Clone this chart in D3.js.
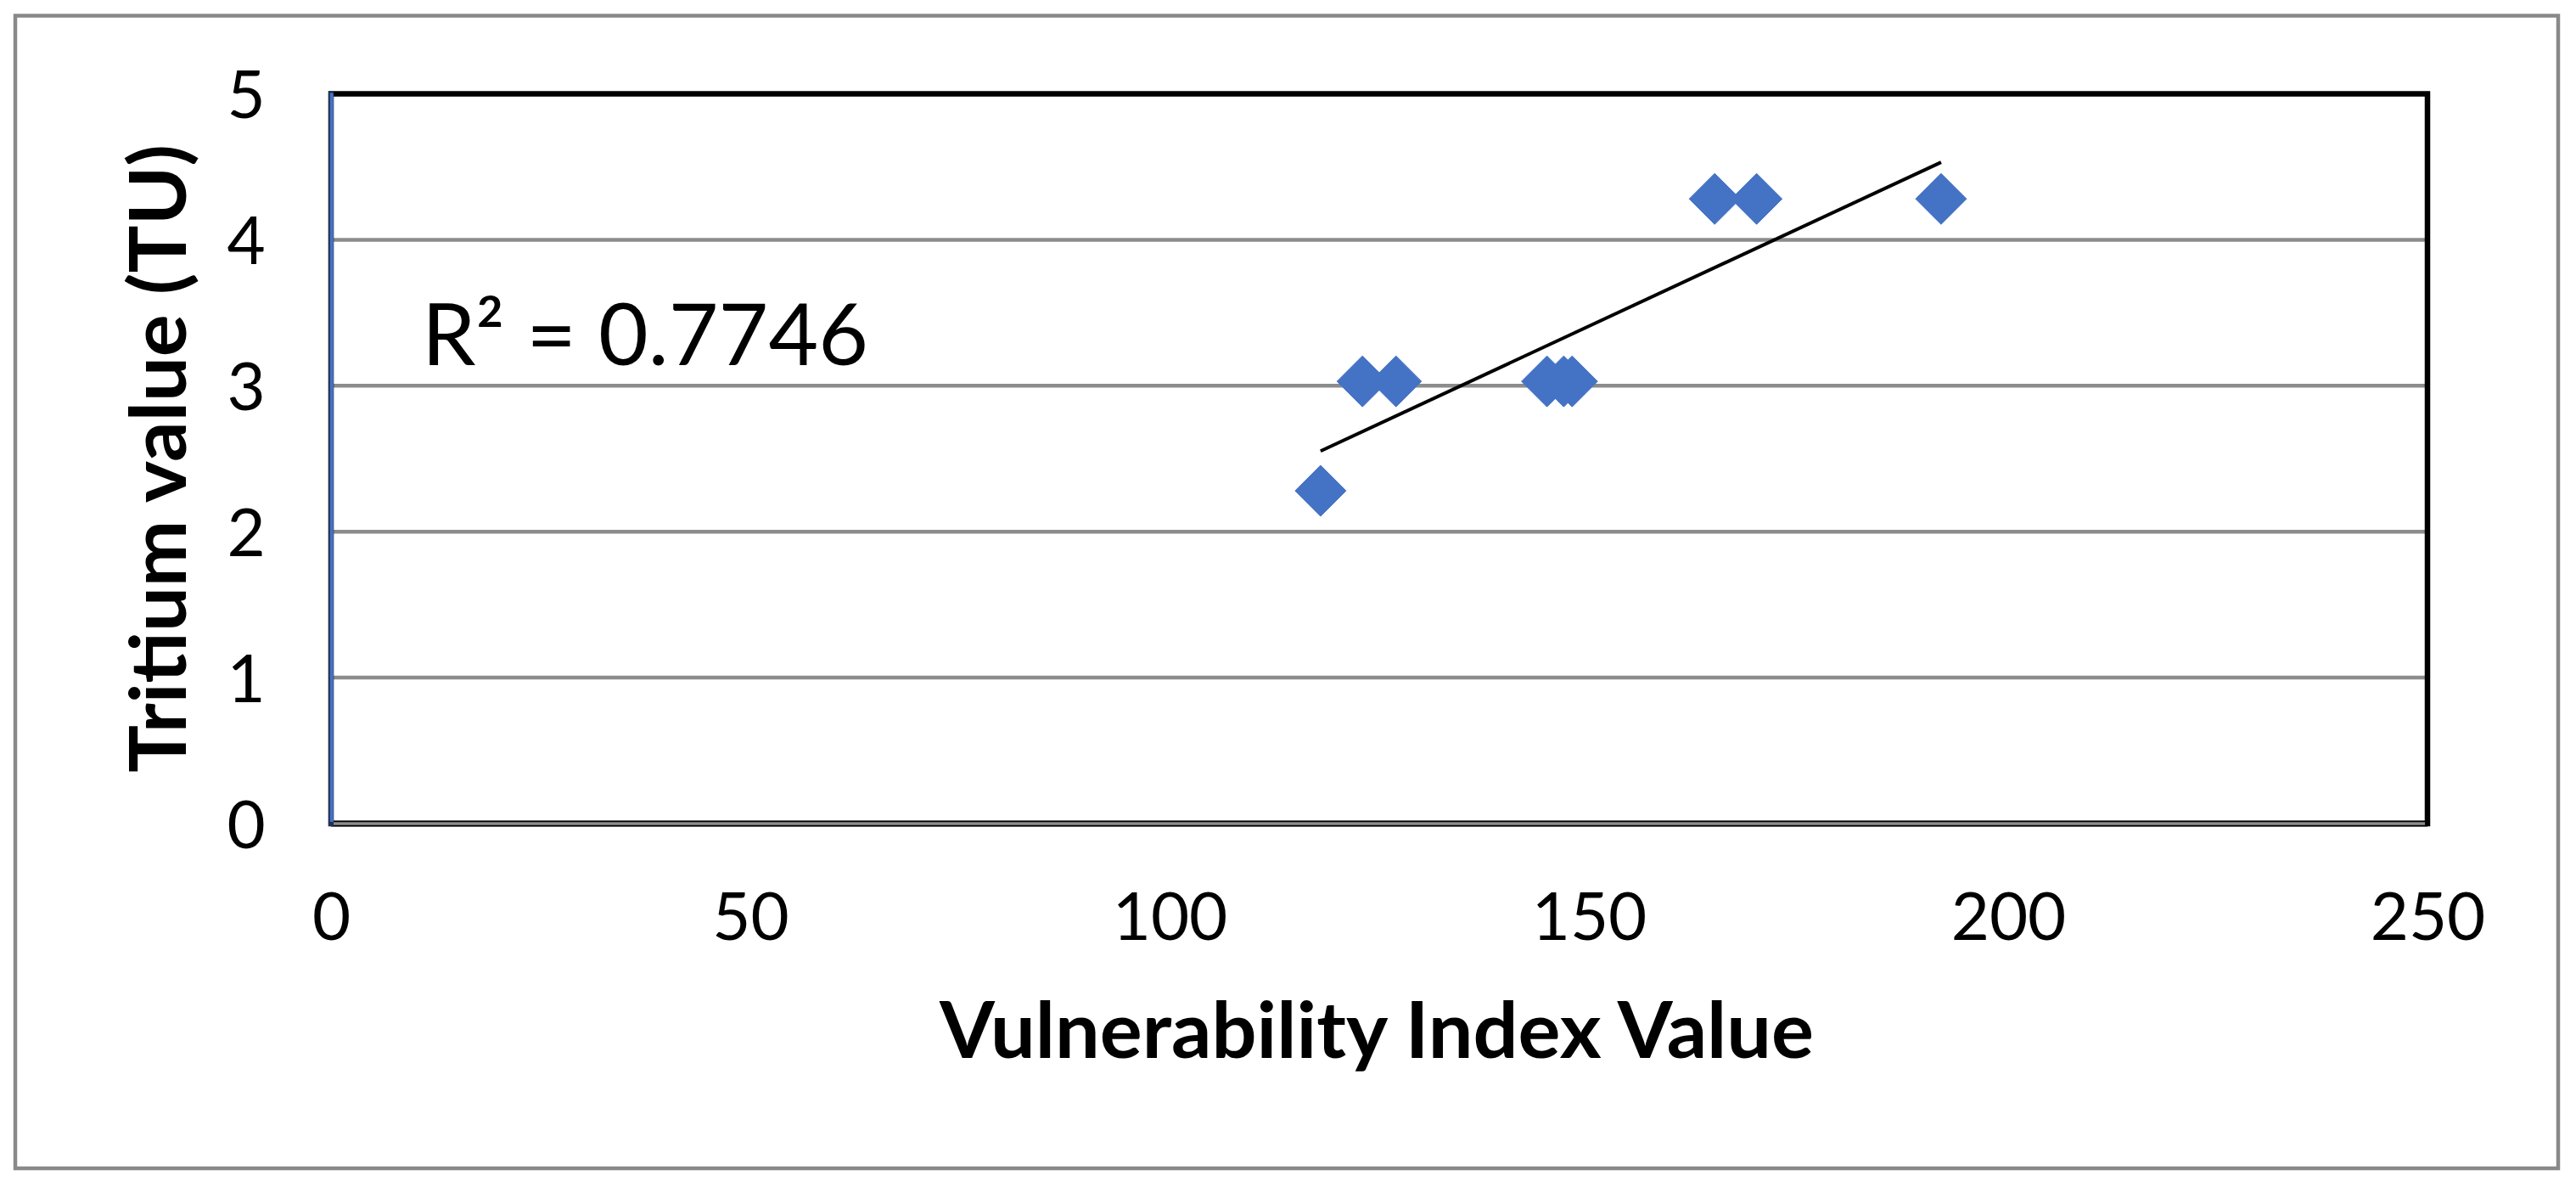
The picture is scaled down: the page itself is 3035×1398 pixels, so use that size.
<!DOCTYPE html>
<html><head><meta charset="utf-8">
<script src="https://cdn.jsdelivr.net/npm/d3@7"></script>
<style>html,body{margin:0;padding:0;background:#fff;}svg{display:block;}</style>
</head><body>
<svg id="c" width="3035" height="1398"></svg>
<script>
// Data
const vulnerabilityIndex = [118, 123, 127, 145, 147, 148, 165, 170, 192];
const tritiumTU        = [2.28, 3.03, 3.03, 3.03, 3.03, 3.03, 4.28, 4.28, 4.28];
const xTicks = [0, 50, 100, 150, 200, 250];
const yTicks = [0, 1, 2, 3, 4, 5];
const xTitle = "Vulnerability Index Value";
const yTitle = "Tritium value (TU)";
const r2Label = "R² = 0.7746";

const W = 3035, H = 1398;
const L = 390, R = 2860, T = 110.5, B = 970;
const FONT = "Lato, 'Open Sans', sans-serif";
const svg = d3.select("#c");

svg.append("rect").attr("width", W).attr("height", H).attr("fill", "#fff");
// outer chart border
svg.append("rect").attr("x", 18).attr("y", 18.5).attr("width", 2996).attr("height", 1357.5)
  .attr("fill", "none").attr("stroke", "#898989").attr("stroke-width", 4.5);

const x = d3.scaleLinear().domain([0, 250]).range([L, R]);
const y = d3.scaleLinear().domain([0, 5]).range([B, T]);

// gridlines
svg.append("g").selectAll("line").data(yTicks.filter(d => d > 0 && d < 5)).join("line")
  .attr("x1", L).attr("x2", R).attr("y1", d => y(d)).attr("y2", d => y(d))
  .attr("stroke", "#8c8c8c").attr("stroke-width", 4.5);

// plot area border (black)
svg.append("rect").attr("x", L).attr("y", T).attr("width", R - L).attr("height", B - T)
  .attr("fill", "none").attr("stroke", "#000").attr("stroke-width", 6.5);

// bottom axis line: gray with black outline
svg.append("line").attr("x1", L).attr("x2", R).attr("y1", B).attr("y2", B)
  .attr("stroke", "#000").attr("stroke-width", 7);
svg.append("line").attr("x1", L + 2).attr("x2", R - 3).attr("y1", B).attr("y2", B)
  .attr("stroke", "#8c8c8c").attr("stroke-width", 3.5);
// left axis line: blue with dark edge
svg.append("line").attr("x1", L).attr("x2", L).attr("y1", T - 3).attr("y2", B + 3)
  .attr("stroke", "#1f2f55").attr("stroke-width", 6);
svg.append("line").attr("x1", L + 0.8).attr("x2", L + 0.8).attr("y1", T - 1).attr("y2", B - 2)
  .attr("stroke", "#4472C4").attr("stroke-width", 4);

// axes (labels only)
const xAxis = d3.axisBottom(x).tickValues(xTicks).tickSize(0).tickPadding(0).tickFormat(d3.format("d"));
const gx = svg.append("g").attr("transform", `translate(0,${B})`).call(xAxis);
gx.select(".domain").remove();
gx.selectAll("text").attr("font-family", FONT).attr("font-size", 78).attr("fill", "#000")
  .attr("dy", null).attr("y", 137);

const yAxis = d3.axisLeft(y).tickValues(yTicks).tickSize(0).tickPadding(0).tickFormat(d3.format("d"));
const gy = svg.append("g").attr("transform", `translate(${L},0)`).call(yAxis);
gy.select(".domain").remove();
gy.selectAll("text").attr("font-family", FONT).attr("font-size", 78).attr("fill", "#000")
  .attr("text-anchor", "middle").attr("x", -100).attr("dy", "0.36em");

// regression trend line computed from the data
const mx = d3.mean(vulnerabilityIndex), my = d3.mean(tritiumTU);
let sxy = 0, sxx = 0;
vulnerabilityIndex.forEach((v, i) => { sxy += (v - mx) * (tritiumTU[i] - my); sxx += (v - mx) ** 2; });
const slope = sxy / sxx, icpt = my - slope * mx;
const [x0, x1] = d3.extent(vulnerabilityIndex);
svg.append("line")
  .attr("x1", x(x0)).attr("y1", y(icpt + slope * x0))
  .attr("x2", x(x1)).attr("y2", y(icpt + slope * x1))
  .attr("stroke", "#000").attr("stroke-width", 4);

// points (diamonds)
const pts = vulnerabilityIndex.map((v, i) => ({ x: v, y: tritiumTU[i] }));
const hs = 30;
svg.append("g").selectAll("path").data(pts).join("path")
  .attr("d", d => `M${x(d.x)},${y(d.y) - hs}L${x(d.x) + hs},${y(d.y)}L${x(d.x)},${y(d.y) + hs}L${x(d.x) - hs},${y(d.y)}Z`)
  .attr("fill", "#4472C4").attr("stroke", "#4472C4").attr("stroke-width", 1).attr("stroke-linejoin", "round");

// R² label
svg.append("text").attr("x", 497).attr("y", 430).attr("font-family", FONT).attr("font-size", 100)
  .attr("fill", "#000").attr("textLength", 526).attr("lengthAdjust", "spacingAndGlyphs").text(r2Label);

// axis titles
svg.append("text").attr("x", 1622).attr("y", 1246).attr("text-anchor", "middle")
  .attr("font-family", FONT).attr("font-weight", "bold").attr("font-size", 92)
  .attr("textLength", 1030).attr("lengthAdjust", "spacingAndGlyphs").attr("fill", "#000").text(xTitle);

svg.append("text").attr("transform", "translate(219,540) rotate(-90)").attr("text-anchor", "middle")
  .attr("font-family", FONT).attr("font-weight", "bold").attr("font-size", 92)
  .attr("textLength", 740).attr("lengthAdjust", "spacingAndGlyphs").attr("fill", "#000").text(yTitle);
</script>
</body></html>
